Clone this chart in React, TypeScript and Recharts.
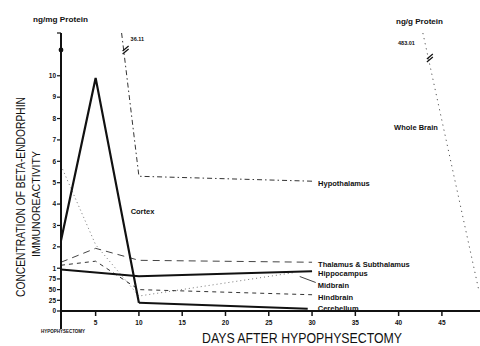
import { LineChart, Line, XAxis, YAxis, Label } from 'recharts';

const FONT = '"Liberation Sans", Arial, sans-serif';
const INK = '#111';

// days after hypophysectomy / concentration (ng/mg protein)
const CORTEX_DAYS = [1, 5, 10];
const CORTEX = [2.3, 9.9, 0.19];
const CEREBELLUM_DAYS = [10, 29.5];
const CEREBELLUM = [0.19, 0.05];
const HIPPOCAMPUS_DAYS = [1, 8, 10, 30];
const HIPPOCAMPUS = [0.97, 0.85, 0.81, 0.93];
const THALAMUS_DAYS = [1, 5, 10, 30];
const THALAMUS = [1.28, 1.93, 1.37, 1.28];
const HINDBRAIN_DAYS = [1, 5, 10, 30];
const HINDBRAIN = [1.14, 1.33, 0.5, 0.38];
const MIDBRAIN_DAYS = [1, 5, 10, 28];
const MIDBRAIN = [5.8, 2.1, 0.35, 0.9];
const HYPOTHALAMUS_DAYS = [8, 10, 30];
const HYPOTHALAMUS = [36.11, 5.3, 5.07];
const WHOLE_BRAIN_DAYS = [42.8, 49.3];
const WHOLE_BRAIN = [483.01, 0.45];

const X_TICKS = [1, 5, 10, 15, 20, 25, 30, 35, 40, 45];
const Y_TICKS = [0, 0.5, 1, 1.5, 2, 3, 4, 5, 6, 7, 8, 9, 10, 11, 13];
const Y_TICK_LABELS = ['0', '25', '50', '75', '1', '2', '3', '4', '5', '6', '7', '8', '9', '10', ''];

// broken axis: 0-1 is stretched, 1-10 linear, anything above is put at the break
const toPlot = (v: number) => (v <= 1 ? v * 2 : v <= 10.5 ? v + 1 : 13);
const series = (days: number[], vals: number[]) =>
  days.map((d, i) => ({ day: d, v: toPlot(vals[i]) }));

type Tag = { i: number; text: string; dx: number; dy: number; anchor?: string; size?: number; extra?: 'leader' | 'break' };

const tags = (list: Tag[]) => (props: any) => {
  const { x, y, index } = props;
  const hits = list.filter((t) => t.i === index);
  if (!hits.length) return null;
  return (
    <g>
      {hits.map((t, k) => (
        <g key={k}>
          {t.extra === 'leader' && (
            <line x1={x + 5} y1={y + 4} x2={x + 21} y2={y + 10} stroke={INK} strokeWidth={0.8} />
          )}
          {t.extra === 'break' ? (
            <g stroke={INK} strokeWidth={1.2}>
              <line x1={x + t.dx - 3} y1={y + t.dy + 2} x2={x + t.dx + 3} y2={y + t.dy - 3} />
              <line x1={x + t.dx - 3} y1={y + t.dy + 5} x2={x + t.dx + 3} y2={y + t.dy} />
            </g>
          ) : (
            <text
              x={x + t.dx}
              y={y + t.dy}
              textAnchor={t.anchor ?? 'start'}
              fontSize={t.size ?? 7.5}
              fontWeight="bold"
              fontFamily={FONT}
              fill={INK}
            >
              {t.text}
            </text>
          )}
        </g>
      ))}
    </g>
  );
};

const XTick = (props: any) => {
  const { x, y, payload } = props;
  if (payload.value === 1) {
    return (
      <g>
        <line x1={x} y1={y} x2={x} y2={y + 18} stroke={INK} strokeWidth={2} />
        <text x={x + 2} y={y + 22} textAnchor="middle" fontSize={4.5} fontWeight="bold" fontFamily={FONT} fill={INK}>
          HYPOPHYSECTOMY
        </text>
      </g>
    );
  }
  return (
    <g>
      <line x1={x} y1={y} x2={x} y2={y + 5} stroke={INK} strokeWidth={1.5} />
      <text x={x} y={y + 14} textAnchor="middle" fontSize={6.5} fontWeight="bold" fontFamily={FONT} fill={INK}>
        {payload.value}
      </text>
    </g>
  );
};

const YTick = (props: any) => {
  const { x, y, payload } = props;
  const idx = Y_TICKS.indexOf(payload.value);
  return (
    <g>
      {payload.value === 13 && <circle cx={x + 5} cy={y + 17} r={2.4} fill={INK} />}
      <text x={x} y={y} dy="0.35em" textAnchor="end" fontSize={6.5} fontWeight="bold" fontFamily={FONT} fill={INK}>
        {Y_TICK_LABELS[idx]}
      </text>
    </g>
  );
};

const Titles = () => (
  <g fontFamily={FONT} fill={INK}>
    <text x={33} y={22} fontSize={6.5} fontWeight="bold" textLength={55} lengthAdjust="spacingAndGlyphs">
      ng/mg Protein
    </text>
    <text x={396} y={24} fontSize={6.5} fontWeight="bold" textLength={47} lengthAdjust="spacingAndGlyphs">
      ng/g Protein
    </text>
    <text
      transform="translate(25,197) rotate(-90)"
      textAnchor="middle"
      fontSize={13}
      textLength={200}
      lengthAdjust="spacingAndGlyphs"
    >
      CONCENTRATION OF BETA-ENDORPHIN
    </text>
    <text
      transform="translate(40,204) rotate(-90)"
      textAnchor="middle"
      fontSize={11}
      textLength={106}
      lengthAdjust="spacingAndGlyphs"
    >
      IMMUNOREACTIVITY
    </text>
    <text x={302} y={343} textAnchor="middle" fontSize={14} textLength={200} lengthAdjust="spacingAndGlyphs">
      DAYS AFTER HYPOPHYSECTOMY
    </text>
  </g>
);

export default function App() {
  return (
    <div style={{ position: 'absolute', left: 0, top: 0, width: 480, height: 346, background: '#fff' }}>
      <LineChart width={480} height={346} margin={{ top: 33, right: 0, bottom: 0, left: 41 }}>
        <XAxis
          dataKey="day"
          type="number"
          domain={[1, 49.4]}
          ticks={X_TICKS}
          allowDataOverflow
          height={35}
          tickSize={0}
          tickMargin={0}
          tickLine={false}
          axisLine={{ stroke: INK, strokeWidth: 2 }}
          tick={<XTick />}
        />
        <YAxis
          dataKey="v"
          type="number"
          domain={[0, 13]}
          ticks={Y_TICKS}
          width={20}
          tickSize={4}
          tickMargin={1}
          tickLine={{ stroke: INK, strokeWidth: 1.2 }}
          axisLine={{ stroke: INK, strokeWidth: 2 }}
          tick={<YTick />}
          interval={0}
        >
          <Label content={() => <Titles />} />
        </YAxis>

        <Line
          data={series(HYPOTHALAMUS_DAYS, HYPOTHALAMUS)}
          dataKey="v"
          stroke="#333"
          strokeWidth={1}
          strokeDasharray="5 3 1.5 3"
          dot={false}
          isAnimationActive={false}
          label={tags([
            { i: 0, text: '36.11', dx: 9, dy: 8, size: 5.5 },
            { i: 0, text: '', dx: 4, dy: 16, extra: 'break' },
            { i: 2, text: 'Hypothalamus', dx: 6, dy: 5 },
          ])}
        />
        <Line
          data={series(WHOLE_BRAIN_DAYS, WHOLE_BRAIN)}
          dataKey="v"
          stroke="#555"
          strokeWidth={1}
          strokeDasharray="1.2 4"
          dot={false}
          isAnimationActive={false}
          label={tags([
            { i: 0, text: '483.01', dx: -8, dy: 12, anchor: 'end', size: 5.5 },
            { i: 0, text: '', dx: 7, dy: 24, extra: 'break' },
            { i: 0, text: 'Whole Brain', dx: 15, dy: 97, anchor: 'end' },
          ])}
        />
        <Line
          data={series(MIDBRAIN_DAYS, MIDBRAIN)}
          dataKey="v"
          stroke="#777"
          strokeWidth={1}
          strokeDasharray="1 3"
          dot={false}
          isAnimationActive={false}
          label={tags([{ i: 3, text: 'Midbrain', dx: 23, dy: 15.5, extra: 'leader' }])}
        />
        <Line
          data={series(THALAMUS_DAYS, THALAMUS)}
          dataKey="v"
          stroke="#444"
          strokeWidth={1}
          strokeDasharray="7 5"
          dot={false}
          isAnimationActive={false}
          label={tags([{ i: 3, text: 'Thalamus & Subthalamus', dx: 6, dy: 4.7 }])}
        />
        <Line
          data={series(HINDBRAIN_DAYS, HINDBRAIN)}
          dataKey="v"
          stroke="#333"
          strokeWidth={1}
          strokeDasharray="4 4"
          dot={false}
          isAnimationActive={false}
          label={tags([{ i: 3, text: 'Hindbrain', dx: 6, dy: 5 }])}
        />
        <Line
          data={series(HIPPOCAMPUS_DAYS, HIPPOCAMPUS)}
          dataKey="v"
          stroke={INK}
          strokeWidth={2}
          dot={false}
          isAnimationActive={false}
          label={tags([{ i: 3, text: 'Hippocampus', dx: 6, dy: 5 }])}
        />
        <Line
          data={series(CEREBELLUM_DAYS, CEREBELLUM)}
          dataKey="v"
          stroke={INK}
          strokeWidth={2}
          dot={false}
          isAnimationActive={false}
          label={tags([{ i: 1, text: 'Cerebellum', dx: 10, dy: 2 }])}
        />
        <Line
          data={series(CORTEX_DAYS, CORTEX)}
          dataKey="v"
          stroke={INK}
          strokeWidth={2.2}
          dot={false}
          isAnimationActive={false}
          label={tags([{ i: 1, text: 'Cortex', dx: 35, dy: 136 }])}
        />
      </LineChart>
    </div>
  );
}
